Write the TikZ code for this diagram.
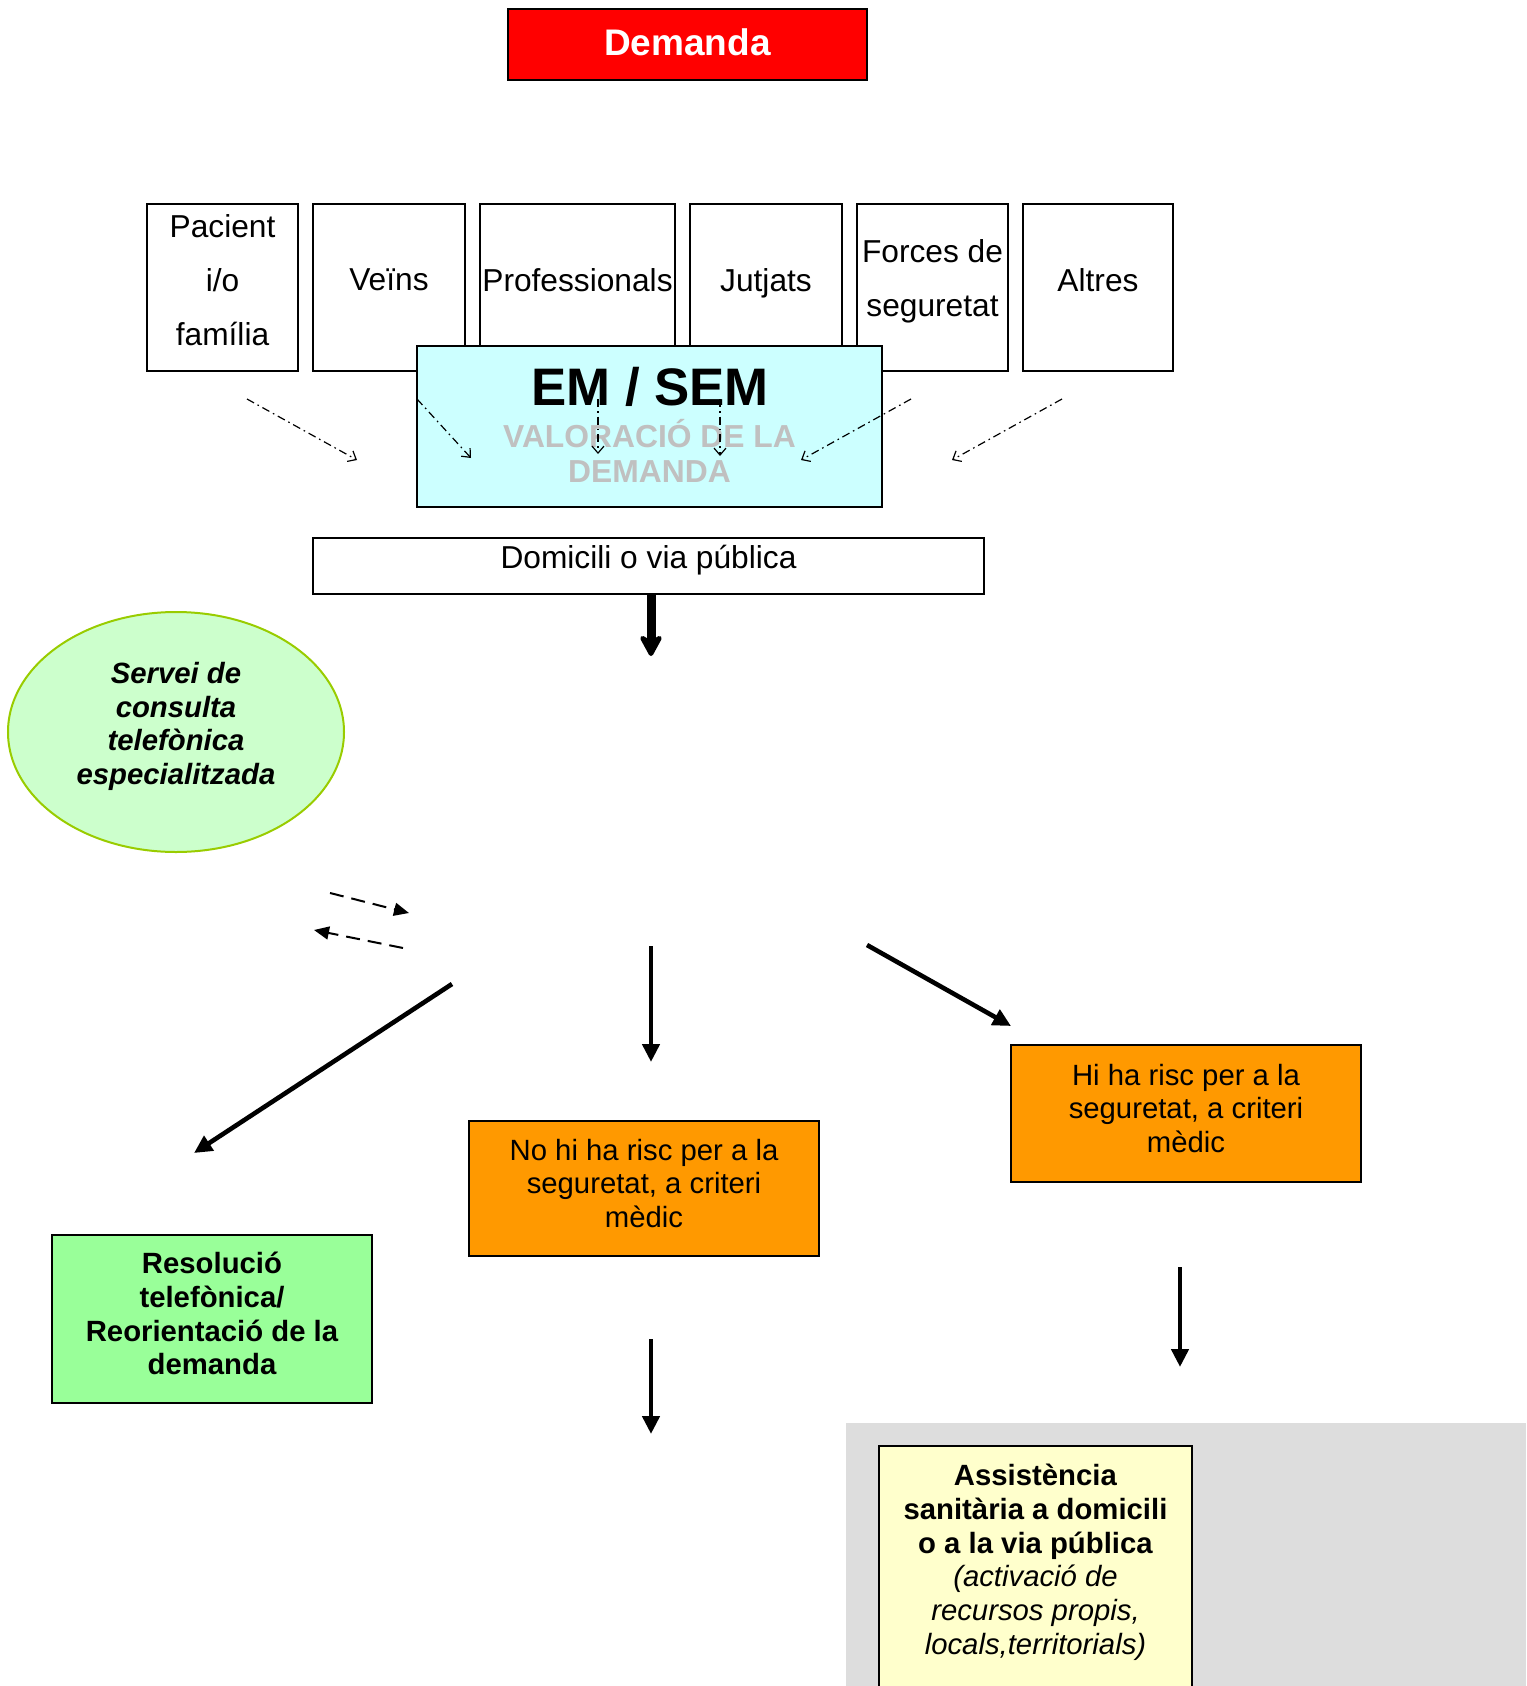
\documentclass[tikz,border=0pt]{standalone}
\usepackage{fontspec}
\setmainfont{Liberation Sans}
\usepackage{xcolor}
\usetikzlibrary{shapes.geometric,arrows.meta,positioning}

\definecolor{demandred}{HTML}{FF0000}
\definecolor{emcyan}{HTML}{CCFFFF}
\definecolor{valgray}{HTML}{C0C0C0}
\definecolor{serveigreen}{HTML}{CCFFCC}
\definecolor{serveiline}{HTML}{99CC00}
\definecolor{riskorange}{HTML}{FF9900}
\definecolor{resolgreen}{HTML}{99FF99}
\definecolor{panelgray}{HTML}{DDDDDD}
\definecolor{assistyellow}{HTML}{FFFFCC}

\newcommand{\srcfont}{\fontsize{15.85}{27}\selectfont}
\newcommand{\boxfont}{\fontsize{14.65}{16.8}\selectfont}
\newcommand{\demfont}{\fontsize{18.5}{22}\selectfont\bfseries}
\newcommand{\emfont}{\fontsize{26.4}{30}\selectfont\bfseries}
\newcommand{\valfont}{\fontsize{15.9}{17.75}\selectfont\bfseries}

\begin{document}
\begin{tikzpicture}[
    x=0.5pt, y=-0.5pt,
    textlift/.style={execute at end node={\rule[-#1]{0pt}{0pt}}},
    block/.style={rectangle, draw, line width=1pt, inner sep=0pt, outer sep=0pt, align=center, font=\boxfont},
    source/.style={rectangle, draw, line width=0.75pt, minimum height=83.5pt, inner sep=0pt, outer sep=0pt, align=center, font=\srcfont, textlift=7.5pt},
    risk/.style={block, fill=riskorange, minimum width=175pt, textlift=5.5pt},
    arrow/.style={-{Triangle[length=9pt,width=8.5pt]}, line width=2.3pt},
    domarrow/.style={-{Stealth[length=13pt,width=14pt,inset=4pt,round]}, line width=4.5pt},
    feed/.style={-{Straight Barb[length=3.5pt,width=6pt]}, line width=0.6pt, dash pattern=on 4pt off 2pt on 0.8pt off 2pt},
    consult/.style={-{Triangle[length=7.5pt,width=6.5pt]}, line width=1pt, dash pattern=on 7pt off 4pt}
]
    \useasboundingbox (0,0) rectangle (1526,1686);
    \clip (0,0) rectangle (1526,1686);

    \node[block, fill=demandred, minimum width=179.5pt, minimum height=35.5pt, text=white, font=\demfont, textlift=2pt] (demanda) at (687.5,44.5) {Demanda};

    \node[source, minimum width=75.5pt] (pacient) at (222.5,287.5) {Pacient\\i/o\\família};
    \node[source, minimum width=76pt, right=7.5pt of pacient] (veins) {Veïns};
    \node[source, minimum width=97.5pt, right=7.5pt of veins] (professionals) {Professionals};
    \node[source, minimum width=76pt, right=7.5pt of professionals] (jutjats) {Jutjats};
    \node[source, minimum width=75.5pt, right=7.5pt of jutjats, textlift=9.5pt] (forces) {Forces de\\seguretat};
    \node[source, minimum width=75pt, right=7.5pt of forces] (altres) {Altres};

    \node[block, fill=emcyan, minimum width=232.5pt, minimum height=80.5pt] (em) at (649.5,426.5) {};
    \node[font=\emfont, inner sep=0pt] (emtitle) at (650,387) {EM / SEM};
    \node[font=\valfont, text=valgray, align=center, inner sep=0pt] (valoracio) at (649.5,451) {VALORACIÓ DE LA\\DEMANDA};

    \coordinate (pac-s) at (247,399);   \coordinate (pac-e) at (357,460);
    \coordinate (vei-s) at (417,399);   \coordinate (vei-e) at (471,458);
    \coordinate (pro-s) at (598,399);   \coordinate (pro-e) at (598,454);
    \coordinate (jut-s) at (720,399);   \coordinate (jut-e) at (720,456);
    \coordinate (for-s) at (911,399);   \coordinate (for-e) at (801,460);
    \coordinate (alt-s) at (1062,399);  \coordinate (alt-e) at (952,460);

    \node[block, minimum width=335.5pt, minimum height=28pt, font=\srcfont, text depth=8.8pt] (domicili) at (648.5,566) {Domicili o via pública};
    \coordinate (domend) at (651,656);

    \node[ellipse, draw=serveiline, line width=1pt, fill=serveigreen, minimum width=168pt, minimum height=120pt, inner sep=0pt, align=center, font=\boxfont\bfseries\itshape, textlift=8.5pt] (servei) at (176,732) {Servei de\\consulta\\telefònica\\especialitzada};

    \coordinate (ask-s) at (330,893);   \coordinate (ask-e) at (409,913);
    \coordinate (ans-s) at (403,948);   \coordinate (ans-e) at (314,930);
    \coordinate (mid-s) at (651,946);   \coordinate (mid-e) at (651,1062);
    \coordinate (right-s) at (867,945); \coordinate (right-e) at (1011,1026);
    \coordinate (left-s) at (452,984);  \coordinate (left-e) at (194,1153);

    \node[risk, minimum height=68.5pt] (hirisc) at (1186,1113.5) {Hi ha risc per a la\\seguretat, a criteri\\mèdic};
    \node[risk, minimum height=67.5pt] (norisc) at (644,1188.5) {No hi ha risc per a la\\seguretat, a criteri\\mèdic};
    \node[block, fill=resolgreen, minimum width=160pt, minimum height=84pt, font=\boxfont\bfseries, textlift=5.5pt] (resolucio) at (212,1319) {Resolució\\telefònica/\\Reorientació de la\\demanda};

    \coordinate (hi-s) at (1180,1267);  \coordinate (hi-e) at (1180,1367);
    \coordinate (no-s) at (651,1339);   \coordinate (no-e) at (651,1434);

    \fill[panelgray] (846,1423) rectangle (1526,1686);
    \node[block, fill=assistyellow, minimum width=156.5pt, minimum height=130pt, anchor=north] (assist) at (1035.5,1446) {};
    \node[font=\fontsize{14.65}{16.9}\selectfont, align=center, inner sep=0pt, below=8.75pt of assist.north] (assisttext) {\textbf{Assistència}\\\textbf{sanitària a domicili}\\\textbf{o a la via pública}\\\textit{(activació de}\\\textit{recursos propis,}\\\textit{locals,territorials)}};

    \draw[feed] (pac-s) -- (pac-e);
    \draw[feed] (vei-s) -- (vei-e);
    \draw[feed] (pro-s) -- (pro-e);
    \draw[feed] (jut-s) -- (jut-e);
    \draw[feed] (for-s) -- (for-e);
    \draw[feed] (alt-s) -- (alt-e);
    \draw[domarrow] (domicili.south -| domend) -- (domend);
    \draw[consult] (ask-s) -- (ask-e);
    \draw[consult] (ans-s) -- (ans-e);
    \draw[arrow] (mid-s) -- (mid-e);
    \draw[arrow] (right-s) -- (right-e);
    \draw[arrow] (left-s) -- (left-e);
    \draw[arrow] (hi-s) -- (hi-e);
    \draw[arrow] (no-s) -- (no-e);
\end{tikzpicture}
\end{document}
